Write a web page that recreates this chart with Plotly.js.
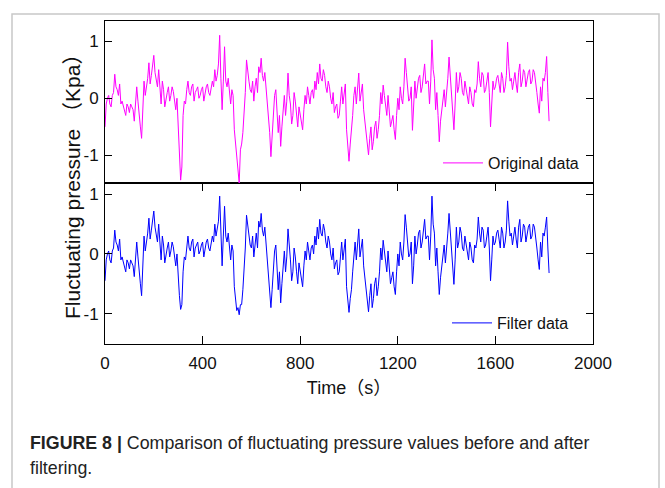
<!DOCTYPE html>
<html>
<head>
<meta charset="utf-8">
<script src="https://cdn.plot.ly/plotly-3.0.1.min.js"></script>
<style>
html,body{margin:0;padding:0;background:#fff;}
#chart{width:665px;height:488px;}
</style>
</head>
<body>
<div id="chart"></div>
<script>
// sample interval (s) and values
const sampleStep = 5;
const originalData = [
 -0.5, -0.1, 0.0, 0.05, -0.1, -0.15, 0.05, 0.1, 0.42, 0.2, 0.15, 0.05, 0.25, -0.1, -0.05, -0.15, -0.2, -0.3, -0.1, -0.15,
 -0.25, -0.1, -0.15, -0.2, -0.4, -0.1, 0.2, -0.05, -0.35, -0.5, -0.7, -0.2, 0.3, 0.05, 0.2, 0.35, 0.62, 0.25, 0.4, 0.55,
 0.75, 0.45, 0.35, 0.2, 0.5, 0.15, -0.1, 0.3, 0.15, -0.15, 0.0, 0.1, 0.2, -0.05, 0.05, 0.2, 0.12, -0.1, -0.2, 0.0,
 -0.5, -0.9, -1.43, -1.2, -0.3, -0.05, -0.1, 0.15, 0.3, 0.1, 0.05, 0.2, 0.25, -0.05, 0.1, 0.15, 0.2, 0.0, 0.05, 0.15,
 0.2, -0.05, 0.1, 0.2, 0.25, 0.1, 0.05, 0.2, 0.3, 0.2, 0.5, 0.3, 0.4, 0.6, 1.1, 0.35, -0.2, 0.3, 0.9, 0.3,
 0.2, 0.35, 0.05, -0.1, 0.15, 0.05, -0.55, -0.8, -1.05, -1.2, -1.48, -0.9, -0.8, -0.6, -0.3, 0.1, 0.67, 0.45, 0.3, 0.15,
 0.1, 0.3, -0.05, 0.2, 0.35, 0.1, 0.55, 0.45, 0.7, 0.4, 0.3, 0.45, 0.2, -0.1, -0.38, -0.6, -1.02, -0.6, -0.3, 0.05,
 0.15, -0.3, -0.6, -0.3, -0.84, -0.5, -0.2, 0.05, -0.3, -0.05, 0.44, 0.05, -0.1, -0.45, -0.3, 0.1, -0.05, -0.3, -0.5, -0.15,
 -0.3, -0.45, -0.55, -0.2, 0.05, -0.1, 0.2, 0.05, -0.1, 0.1, 0.15, 0.0, 0.3, 0.15, 0.45, 0.25, 0.6, 0.35, 0.3, 0.5,
 0.4, 0.2, 0.1, 0.3, 0.2, 0.0, -0.1, 0.1, -0.25, -0.15, -0.1, -0.35, -0.3, -0.05, 0.2, -0.1, 0.1, 0.25, -0.55, -0.8,
 -1.1, -0.8, -0.6, -0.3, 0.05, 0.2, -0.1, 0.15, 0.44, -0.05, 0.1, 0.25, -0.2, -0.4, -0.65, -0.8, -0.99, -0.7, -0.5, -0.9,
 -0.75, -0.5, -0.4, -0.7, -0.55, -0.3, 0.1, -0.1, 0.23, 0.05, -0.15, -0.3, 0.05, -0.2, -0.5, -0.4, -0.3, -0.55, -0.72, -0.3,
 0.0, -0.2, 0.2, 0.0, -0.1, 0.2, 0.7, 0.45, 0.25, -0.05, 0.0, 0.2, -0.56, -0.2, 0.3, 0.0, 0.15, 0.35, 0.4, 0.1,
 0.2, 0.45, 0.6, 0.25, 0.3, 0.3, -0.1, 0.3, 1.02, 0.5, 0.35, -0.2, 0.1, -0.3, -0.76, -0.4, -0.2, 0.05, 0.15, -0.15,
 0.05, 0.35, 0.72, 0.4, 0.2, -0.1, -0.55, -0.1, 0.45, 0.1, 0.2, 0.45, 0.35, 0.1, 0.05, 0.3, 0.15, 0.05, -0.1, 0.2,
 0.1, -0.1, -0.15, 0.15, 0.1, 0.25, 0.64, 0.35, 0.2, 0.45, 0.4, 0.1, 0.15, 0.3, 0.45, 0.1, -0.5, -0.1, 0.3, 0.15,
 0.2, 0.35, 0.4, 0.25, 0.1, 0.45, 0.35, 0.1, 0.2, 0.4, 0.98, 0.55, 0.3, 0.35, 0.15, 0.3, 0.45, 0.25, 0.1, 0.45,
 0.6, 0.2, 0.3, 0.5, 0.45, 0.2, 0.35, 0.45, 0.5, 0.25, 0.3, 0.5, 0.45, 0.3, 0.1, -0.1, -0.26, 0.2, -0.05, 0.35,
 0.3, 0.45, 0.73, 0.1, -0.4
];
const filterData = [
 -0.45, -0.1, 0.0, 0.05, -0.1, -0.15, 0.05, 0.1, 0.4, 0.2, 0.15, 0.05, 0.25, -0.1, -0.05, -0.15, -0.2, -0.3, -0.1, -0.15,
 -0.25, -0.1, -0.15, -0.2, -0.38, -0.1, 0.2, -0.05, -0.35, -0.5, -0.7, -0.2, 0.3, 0.05, 0.2, 0.35, 0.6, 0.25, 0.4, 0.55,
 0.72, 0.45, 0.35, 0.2, 0.5, 0.15, -0.1, 0.3, 0.15, -0.15, 0.0, 0.1, 0.2, -0.05, 0.05, 0.2, 0.12, -0.1, -0.2, 0.0,
 -0.45, -0.7, -0.93, -0.85, -0.3, -0.05, -0.1, 0.15, 0.3, 0.1, 0.05, 0.2, 0.25, -0.05, 0.1, 0.15, 0.2, 0.0, 0.05, 0.15,
 0.2, -0.05, 0.1, 0.2, 0.25, 0.1, 0.05, 0.2, 0.3, 0.2, 0.5, 0.3, 0.4, 0.55, 0.97, 0.35, -0.2, 0.3, 0.8, 0.3,
 0.2, 0.35, 0.05, -0.1, 0.15, 0.05, -0.55, -0.75, -0.95, -0.9, -1.02, -0.85, -0.85, -0.6, -0.3, 0.1, 0.65, 0.45, 0.3, 0.15,
 0.1, 0.3, -0.05, 0.2, 0.35, 0.1, 0.55, 0.45, 0.68, 0.4, 0.3, 0.45, 0.2, -0.1, -0.38, -0.55, -0.9, -0.6, -0.3, 0.05,
 0.15, -0.3, -0.6, -0.3, -0.82, -0.5, -0.2, 0.05, -0.3, -0.05, 0.42, 0.05, -0.1, -0.45, -0.3, 0.1, -0.05, -0.3, -0.5, -0.15,
 -0.3, -0.45, -0.55, -0.2, 0.05, -0.1, 0.2, 0.05, -0.1, 0.1, 0.15, 0.0, 0.3, 0.15, 0.45, 0.25, 0.58, 0.35, 0.3, 0.5,
 0.4, 0.2, 0.1, 0.3, 0.2, 0.0, -0.1, 0.1, -0.25, -0.15, -0.1, -0.35, -0.3, -0.05, 0.2, -0.1, 0.1, 0.25, -0.55, -0.75,
 -0.98, -0.75, -0.6, -0.3, 0.05, 0.2, -0.1, 0.15, 0.42, -0.05, 0.1, 0.25, -0.2, -0.4, -0.65, -0.8, -0.97, -0.7, -0.5, -0.9,
 -0.75, -0.5, -0.4, -0.7, -0.55, -0.3, 0.1, -0.1, 0.23, 0.05, -0.15, -0.3, 0.05, -0.2, -0.5, -0.4, -0.3, -0.55, -0.68, -0.3,
 0.0, -0.2, 0.2, 0.0, -0.1, 0.2, 0.66, 0.45, 0.25, -0.05, 0.0, 0.2, -0.5, -0.2, 0.3, 0.0, 0.15, 0.35, 0.4, 0.1,
 0.2, 0.45, 0.58, 0.25, 0.3, 0.3, -0.1, 0.3, 0.97, 0.5, 0.35, -0.2, 0.1, -0.3, -0.68, -0.4, -0.2, 0.05, 0.15, -0.15,
 0.05, 0.35, 0.68, 0.4, 0.2, -0.1, -0.51, -0.1, 0.45, 0.1, 0.2, 0.45, 0.35, 0.1, 0.05, 0.3, 0.15, 0.05, -0.1, 0.2,
 0.1, -0.1, -0.15, 0.15, 0.1, 0.25, 0.62, 0.35, 0.2, 0.45, 0.4, 0.1, 0.15, 0.3, 0.45, 0.1, -0.45, -0.1, 0.3, 0.15,
 0.2, 0.35, 0.4, 0.25, 0.1, 0.45, 0.35, 0.1, 0.2, 0.4, 0.89, 0.55, 0.3, 0.35, 0.15, 0.3, 0.45, 0.25, 0.1, 0.45,
 0.58, 0.2, 0.3, 0.5, 0.45, 0.2, 0.35, 0.45, 0.5, 0.25, 0.3, 0.5, 0.45, 0.3, 0.1, -0.1, -0.26, 0.2, -0.05, 0.35,
 0.3, 0.45, 0.62, 0.1, -0.32
];
const timeValues = originalData.map((_, i) => i * sampleStep);
const xTickVals = [0, 400, 800, 1200, 1600, 2000];
const yTickVals = [-1, 0, 1];
const yTickText = ['-1', '0', '1'];
const seriesNames = ['Original data', 'Filter data'];

const W = 665, H = 488;
const M = {l: 105, r: 72, t: 21, b: 144};
const PW = W - M.l - M.r, PH = H - M.t - M.b;
const px = x => (x - M.l) / PW;       // pixel -> paper x
const py = y => (H - M.b - y) / PH;   // pixel -> paper y
const split = py(183);

const sans = 'Arial, "Liberation Sans", "Noto Sans CJK SC", sans-serif';

const traces = [
  {x: timeValues, y: originalData, type: 'scatter', mode: 'lines', name: seriesNames[0],
   line: {color: '#ff00ff', width: 1}, xaxis: 'x2', yaxis: 'y2', legend: 'legend'},
  {x: timeValues, y: filterData, type: 'scatter', mode: 'lines', name: seriesNames[1],
   line: {color: '#0000ff', width: 1}, xaxis: 'x', yaxis: 'y', legend: 'legend2'}
];

const axCommon = {showline: true, linecolor: '#000', linewidth: 1, zeroline: false, showgrid: false};
const layout = {
  width: W, height: H,
  margin: M,
  paper_bgcolor: '#fff', plot_bgcolor: '#fff',
  showlegend: true,
  xaxis: Object.assign({}, axCommon, {
    domain: [0, 1], range: [0, 2000], anchor: 'y',
    tickvals: xTickVals, ticks: 'inside', ticklen: 8, tickcolor: '#000', mirror: 'ticks',
    ticklabelstandoff: 4,
    tickfont: {family: sans, size: 17, color: '#111'},
    title: {text: 'Time（s）', font: {family: sans, size: 18, color: '#111'}, standoff: 8}
  }),
  yaxis: Object.assign({}, axCommon, {
    domain: [0, split], range: [-1.51, 1.19], anchor: 'x',
    tickvals: yTickVals, ticktext: yTickText, ticks: 'inside', ticklen: 7, tickcolor: '#000', mirror: 'ticks',
    ticklabelstandoff: 2,
    tickfont: {family: sans, size: 17, color: '#111'}
  }),
  xaxis2: Object.assign({}, axCommon, {
    domain: [0, 1], range: [0, 2000], anchor: 'y2', matches: 'x',
    tickvals: xTickVals, ticks: '', showticklabels: false, mirror: true
  }),
  yaxis2: Object.assign({}, axCommon, {
    domain: [split, 1], range: [-1.48, 1.35], anchor: 'x2',
    tickvals: yTickVals, ticktext: yTickText, ticks: 'inside', ticklen: 7, tickcolor: '#000', mirror: 'ticks',
    ticklabelstandoff: 2,
    tickfont: {family: sans, size: 17, color: '#111'}
  }),
  legend: {x: px(438), y: py(163), xanchor: 'left', yanchor: 'middle', bgcolor: 'rgba(0,0,0,0)',
    font: {family: sans, size: 16, color: '#111'}, itemwidth: 40},
  legend2: {x: px(447), y: py(323), xanchor: 'left', yanchor: 'middle', bgcolor: 'rgba(0,0,0,0)',
    font: {family: sans, size: 16, color: '#111'}, itemwidth: 40},
  annotations: [
    {text: 'Fluctuating pressure （Kpa）', xref: 'paper', yref: 'paper', x: px(72), y: py(182),
     xanchor: 'center', yanchor: 'middle',
     textangle: -90, showarrow: false, font: {family: sans, size: 21, color: '#111'}},
    {text: '<b>FIGURE 8 |</b> Comparison of fluctuating pressure values before and after', xref: 'paper', yref: 'paper',
     x: px(28), y: py(443), xanchor: 'left', yanchor: 'middle', showarrow: false, font: {family: sans, size: 17.8, color: '#222'}},
    {text: 'filtering.', xref: 'paper', yref: 'paper',
     x: px(28), y: py(468), xanchor: 'left', yanchor: 'middle', showarrow: false, font: {family: sans, size: 17.8, color: '#222'}}
  ],
  shapes: [
    {type: 'rect', xref: 'paper', yref: 'paper', x0: px(12), x1: px(659), y0: py(500), y1: py(14),
     line: {color: '#c8c8c8', width: 1.5}, fillcolor: 'rgba(0,0,0,0)', layer: 'below'}
  ]
};

Plotly.newPlot('chart', traces, layout, {displayModeBar: false, staticPlot: true});
</script>
</body>
</html>
